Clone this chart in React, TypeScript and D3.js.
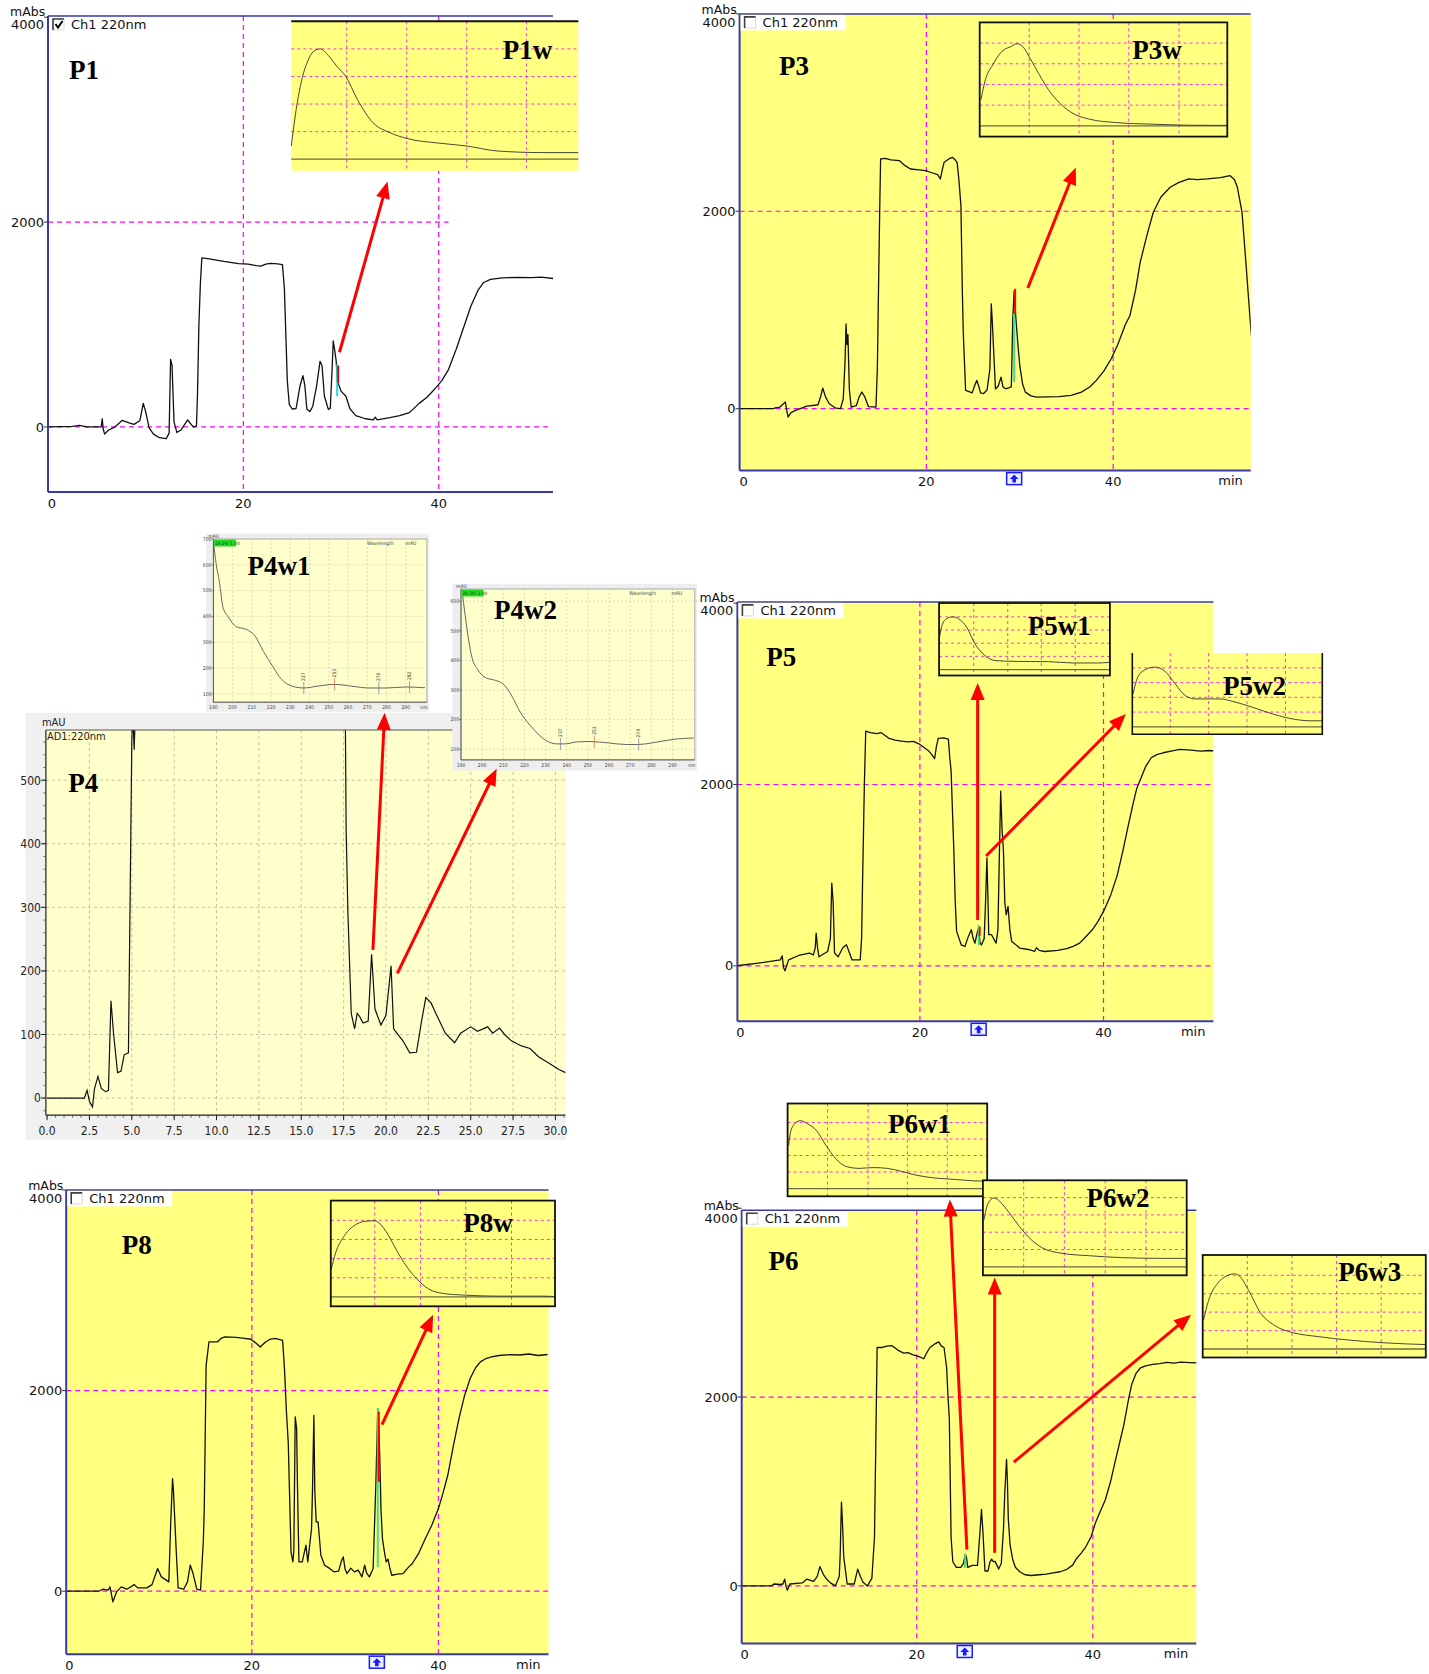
import React from 'react'
import * as d3 from 'd3'

type Pt = [number, number]

// chromatograms at 220 nm: [retention time (min), absorbance (mAbs, P4 in mAU)]
const p1Trace: Pt[] = [
  [0, 0], [2.5, 5], [3.2, 15], [4, 0], [5.45, 0], [5.55, 80], [5.65, -20], [5.8, -70], [6.2, -30], [6.8, -5],
  [7.6, 65], [8.3, 40], [8.8, 25], [9.4, 60], [9.75, 230], [10.0, 150], [10.35, -10], [10.8, -70], [11.4, -105],
  [12.1, -115], [12.4, -60], [12.55, 660], [12.7, 600], [12.9, 50], [13.2, -55], [13.6, -30], [14.3, 68], [14.7, 20],
  [14.95, 0], [15.2, 10], [15.3, 300], [15.45, 1000], [15.6, 1400], [15.75, 1650], [16.5, 1640], [18.0, 1615],
  [19.5, 1595], [20.5, 1590], [21.3, 1575], [21.8, 1570], [22.3, 1590], [22.8, 1597], [23.5, 1592], [24.0, 1585],
  [24.2, 1350], [24.35, 900], [24.5, 450], [24.7, 220], [25.0, 175], [25.4, 180], [25.8, 400], [26.1, 500],
  [26.3, 400], [26.5, 172], [26.8, 150], [27.1, 200], [27.5, 400], [27.85, 640], [28.05, 600], [28.3, 300],
  [28.7, 172], [28.9, 180], [29.1, 600], [29.2, 840], [29.35, 750], [29.5, 645], [29.65, 440], [30.0, 350],
  [30.5, 300], [30.9, 180], [31.5, 110], [32.5, 80], [33.3, 70], [33.5, 95], [33.7, 70], [35.0, 90], [36.0, 110],
  [37.0, 140], [38.0, 230], [38.8, 290], [39.5, 360], [40.3, 450], [41.0, 560], [41.8, 760], [42.6, 985],
  [43.3, 1180], [44.0, 1330], [44.6, 1410], [45.3, 1440], [46.5, 1455], [48.0, 1460], [49.5, 1458], [50.5, 1462],
  [51.8, 1448],
]

const p3Trace: Pt[] = [
  [0, 0], [3.6, 0], [3.85, 8], [4.3, 15], [4.9, 67], [5.05, -20], [5.2, -84], [5.5, -40], [6.0, -17], [7.2, 27],
  [8.0, 35], [8.4, 40], [8.7, 130], [8.9, 209], [9.2, 120], [9.6, 50], [10.3, 5], [10.8, 0], [11.1, 100], [11.3, 500],
  [11.4, 860], [11.5, 650], [11.6, 750], [11.75, 200], [11.95, 15], [12.5, 30], [12.8, 120], [13.1, 169], [13.4, 120],
  [13.8, 20], [14.6, 15], [14.75, 400], [14.85, 1045], [15.0, 2000], [15.1, 2530], [15.6, 2536], [16.2, 2520],
  [17.1, 2513], [17.6, 2470], [18.3, 2428], [19.2, 2420], [19.9, 2411], [20.6, 2390], [21.2, 2370], [21.5, 2327],
  [21.7, 2420], [21.9, 2496], [22.4, 2530], [22.8, 2546], [23.1, 2520], [23.3, 2490], [23.5, 2300], [23.7, 2057],
  [23.85, 1200], [23.95, 776], [24.2, 185], [24.5, 175], [24.9, 160], [25.2, 240], [25.4, 287], [25.6, 230],
  [25.8, 160], [26.1, 152], [26.5, 190], [26.8, 400], [26.95, 1062], [27.05, 900], [27.2, 600], [27.4, 200],
  [27.7, 230], [28.0, 320], [28.2, 220], [28.5, 202], [28.8, 210], [29.1, 220], [29.25, 900], [29.4, 1197],
  [29.55, 961], [29.8, 650], [30.0, 438], [30.3, 250], [30.6, 168], [31.2, 130], [31.8, 118], [33.0, 120],
  [34.2, 122], [35.5, 135], [36.6, 168], [37.5, 220], [38.2, 287], [39.0, 380], [39.8, 506], [40.5, 650],
  [41.3, 850], [41.8, 944], [42.4, 1200], [42.9, 1484], [43.6, 1750], [44.3, 1990], [45.1, 2142], [46.1, 2243],
  [47.0, 2290], [48.1, 2327], [49.0, 2320], [50.1, 2327], [51.5, 2340], [52.5, 2361], [53.0, 2320], [53.3, 2243],
  [53.8, 1990], [54.2, 1500], [54.5, 1113], [54.8, 742],
]

// the solvent front (5.3 - 17.5 min) runs off the top of the mAU window
const p4Trace: Pt[] = [
  [0, 0], [2.2, 0], [2.36, 12], [2.5, -5], [2.68, -14], [2.8, 15], [3.0, 34], [3.2, 15], [3.45, 10], [3.62, 12],
  [3.77, 153], [3.92, 102], [4.16, 40], [4.36, 42], [4.55, 68], [4.8, 71], [4.94, 412], [5.0, 560], [5.04, 600],
  [5.1, 575], [5.14, 548], [5.2, 600], [5.3, 900], [17.5, 900], [17.6, 600], [17.65, 420], [17.75, 294],
  [17.95, 133], [18.15, 109], [18.3, 133], [18.45, 128], [18.65, 118], [18.95, 121], [19.15, 226], [19.35, 140],
  [19.7, 115], [20.0, 130], [20.3, 208], [20.45, 109], [20.7, 100], [21.0, 90], [21.4, 71], [21.8, 72], [22.1, 121],
  [22.35, 158], [22.65, 150], [23.0, 130], [23.5, 102], [24.05, 87], [24.4, 102], [25.0, 112], [25.4, 105],
  [26.0, 112], [26.3, 102], [26.7, 110], [27.0, 100], [27.4, 90], [28.0, 82], [28.5, 78], [29.0, 65], [29.6, 55],
  [30.2, 45], [30.6, 40],
]

const p5Trace: Pt[] = [
  [0, 0], [2.4, 29], [4.8, 66], [5.0, 110], [5.15, -20], [5.3, -55], [5.7, 66], [6.8, 114], [7.95, 140], [8.4, 120],
  [8.6, 200], [8.7, 361], [8.85, 200], [9.0, 100], [9.95, 158], [10.25, 300], [10.4, 913], [10.55, 700], [10.7, 140],
  [11.1, 100], [11.6, 200], [12.0, 232], [12.3, 150], [12.6, 66], [13.5, 66], [13.65, 300], [13.75, 895],
  [13.95, 2000], [14.1, 2589], [14.6, 2571], [15.3, 2560], [15.8, 2571], [16.65, 2508], [17.3, 2490], [18.0, 2479],
  [18.7, 2470], [19.3, 2475], [20.0, 2442], [20.9, 2376], [21.3, 2330], [21.6, 2284], [21.8, 2420], [22.0, 2508],
  [22.6, 2515], [23.1, 2500], [23.25, 2300], [23.4, 2147], [23.55, 1700], [23.7, 1263], [23.85, 700], [24.0, 380],
  [24.5, 232], [24.9, 214], [25.3, 330], [25.6, 398], [25.8, 300], [26.0, 250], [26.2, 350], [26.4, 416],
  [26.55, 250], [26.7, 230], [27.0, 300], [27.15, 700], [27.3, 1190], [27.4, 800], [27.5, 343], [27.8, 343],
  [28.3, 250], [28.5, 400], [28.65, 1200], [28.8, 1926], [28.95, 1500], [29.1, 1263], [29.25, 700], [29.4, 563],
  [29.6, 656], [29.8, 400], [30.0, 269], [30.9, 195], [31.8, 180], [32.5, 160], [32.7, 200], [33.0, 170],
  [33.6, 158], [35.0, 170], [36.0, 190], [36.7, 214], [37.4, 250], [38.1, 324], [38.8, 400], [39.4, 490],
  [40.1, 620], [40.8, 785], [41.5, 1000], [42.1, 1263], [42.7, 1550], [43.2, 1779], [43.6, 1950], [44.1, 2074],
  [44.6, 2200], [45.2, 2295], [45.8, 2330], [46.5, 2350], [47.5, 2370], [48.3, 2387], [49.5, 2380], [50.6, 2368],
  [51.5, 2375], [52.0, 2370],
]

const p8Trace: Pt[] = [
  [0, 0], [3.6, 0], [4.0, 20], [4.6, 10], [4.8, 43], [5.1, -106], [5.5, -7], [6.0, 43], [6.6, 20], [7.4, 66],
  [7.75, 33], [8.75, 33], [9.3, 66], [9.9, 226], [10.3, 143], [11.1, 93], [11.3, 674], [11.5, 1123], [11.6, 1000],
  [11.7, 790], [11.9, 390], [12.1, 33], [12.7, 20], [13.1, 93], [13.4, 259], [13.7, 176], [14.1, 20], [14.5, 10],
  [14.8, 500], [14.9, 824], [15.1, 2252], [15.4, 2485], [16.3, 2485], [16.7, 2520], [17.1, 2535], [18.3, 2530],
  [19.2, 2520], [19.9, 2512], [20.5, 2470], [20.9, 2435], [21.4, 2480], [21.9, 2510], [22.5, 2520], [23.3, 2500],
  [23.5, 2219], [23.7, 1800], [23.9, 1488], [24.2, 392], [24.4, 292], [24.5, 400], [24.65, 1738], [24.8, 1621],
  [24.9, 1000], [25.05, 292], [25.4, 292], [25.8, 459], [26.0, 292], [26.4, 625], [26.5, 1000], [26.65, 1754],
  [26.75, 1000], [26.9, 691], [27.1, 691], [27.4, 359], [27.8, 259], [28.3, 230], [28.8, 193], [29.3, 200],
  [29.6, 300], [29.8, 342], [30.0, 220], [30.2, 176], [30.6, 230], [31.0, 193], [31.4, 210], [31.8, 143],
  [32.1, 259], [32.3, 180], [32.6, 143], [33.0, 226], [33.3, 1090], [33.5, 1821], [33.7, 1389], [33.85, 800],
  [34.0, 525], [34.2, 400], [34.4, 293], [34.6, 320], [34.8, 226], [35.0, 159], [35.6, 170], [36.2, 176],
  [36.7, 230], [37.2, 276], [37.9, 380], [38.6, 525], [39.3, 660], [40.0, 824], [40.5, 980], [41.0, 1156],
  [41.6, 1450], [42.2, 1721], [42.8, 1950], [43.4, 2120], [44.0, 2230], [44.5, 2286], [45.1, 2320], [45.7, 2336],
  [46.5, 2350], [47.7, 2359], [48.7, 2355], [49.7, 2365], [50.7, 2350], [51.7, 2360],
]

const p6Trace: Pt[] = [
  [0, 0], [3.5, 0], [3.76, 20], [4.5, 15], [4.8, 20], [5.0, 71], [5.15, 0], [5.3, -47], [5.6, 20], [7.0, 32],
  [7.5, 71], [8.3, 47], [8.7, 100], [9.0, 205], [9.4, 120], [9.7, 79], [10.2, 32], [10.75, 0], [11.2, 100],
  [11.3, 316], [11.45, 888], [11.6, 600], [11.7, 316], [12.1, 20], [12.9, 20], [13.1, 100], [13.3, 178], [13.6, 100],
  [13.9, 39], [14.4, 0], [14.9, 79], [15.2, 513], [15.35, 1500], [15.5, 2525], [16.1, 2525], [16.6, 2540],
  [17.2, 2544], [17.8, 2500], [18.5, 2465], [19.0, 2470], [19.6, 2446], [20.2, 2430], [20.8, 2406], [21.2, 2480],
  [21.5, 2525], [22.0, 2560], [22.5, 2584], [22.8, 2540], [23.1, 2525], [23.4, 2308], [23.55, 2000], [23.7, 1775],
  [23.9, 513], [24.1, 256], [24.5, 197], [25.0, 197], [25.3, 237], [25.5, 335], [25.65, 300], [25.8, 197],
  [26.3, 217], [26.9, 217], [27.2, 592], [27.35, 809], [27.5, 600], [27.75, 158], [28.1, 158], [28.3, 250],
  [28.5, 284], [28.7, 256], [28.9, 260], [29.1, 220], [29.3, 178], [29.6, 237], [29.85, 600], [30.0, 986],
  [30.2, 1341], [30.3, 1100], [30.4, 710], [30.6, 434], [30.9, 280], [31.2, 197], [31.7, 150], [32.3, 118],
  [33.0, 110], [33.9, 118], [34.7, 125], [35.5, 138], [36.3, 150], [37.1, 178], [37.7, 220], [38.2, 296],
  [38.7, 350], [39.2, 414], [39.8, 520], [40.3, 670], [40.9, 800], [41.4, 907], [42.0, 1100], [42.5, 1302],
  [43.0, 1500], [43.5, 1696], [44.0, 1950], [44.4, 2130], [44.9, 2250], [45.4, 2308], [46.0, 2330], [46.8, 2347],
  [47.6, 2355], [48.4, 2367], [49.2, 2360], [50.0, 2370], [51.0, 2365], [51.9, 2362],
]

// UV spectra of the marked peaks: [% of the wavelength window, absorbance in grid divisions]
const p1wSpectrum: Pt[] = [
  [0, 0.48], [1.7, 1.8], [3.7, 2.9], [5.7, 3.55], [7.7, 3.9], [10.1, 4.0], [13, 3.75], [16, 3.35], [19, 3.0],
  [23, 2.17], [28.4, 1.33], [34.4, 0.96], [40.3, 0.75], [51.7, 0.58], [61, 0.48], [71.6, 0.3], [87.6, 0.24], [100, 0.24],
]
const p3wSpectrum: Pt[] = [
  [0.5, 1.26], [2.3, 2.23], [5.3, 2.95], [9, 3.6], [12.8, 3.84], [15, 3.97], [17.3, 3.84], [20.3, 3.27],
  [24.1, 2.47], [27.8, 1.74], [32.3, 1.1], [38.3, 0.56], [44.4, 0.32], [54.9, 0.16], [69.9, 0.08], [85, 0.03], [100, 0.02],
]
const p5w1Spectrum: Pt[] = [
  [0.2, 2.43], [1.9, 3.43], [4.3, 3.85], [7.9, 4.0], [11.5, 3.85], [16.3, 3.18], [21.1, 1.93], [25.8, 1.18],
  [33, 0.68], [45, 0.62], [64, 0.6], [78.5, 0.5], [92.8, 0.5], [100, 0.55],
]
const p5w2Spectrum: Pt[] = [
  [0.4, 2.23], [2.2, 3.14], [5.4, 3.77], [11.8, 4.05], [17.2, 3.77], [22.6, 2.91], [28, 2.11], [33.3, 1.89],
  [39.8, 1.89], [46.2, 1.89], [52.7, 1.73], [63.4, 1.32], [74.2, 0.86], [85, 0.52], [93.5, 0.41], [100, 0.41],
]
const p8wSpectrum: Pt[] = [
  [0.2, 1.44], [2.2, 2.32], [5.5, 3.1], [10.4, 3.72], [15.4, 3.95], [19.6, 3.98], [22.1, 3.8], [25.4, 3.28],
  [29.5, 2.4], [33.7, 1.61], [38.6, 0.91], [43.6, 0.42], [50.2, 0.18], [60.2, 0.09], [75, 0.04], [95, 0.04], [100, 0.02],
]
const p6w1Spectrum: Pt[] = [
  [0.5, 2.6], [1.65, 3.49], [4, 3.98], [6.4, 4.11], [9.9, 3.93], [14.6, 3.49], [19.3, 2.6], [24, 1.82], [30, 1.31],
  [35.8, 1.22], [42.9, 1.27], [50, 1.22], [57, 1.04], [64, 0.82], [73.6, 0.64], [83, 0.56], [92.5, 0.47], [100, 0.44],
]
const p6w2Spectrum: Pt[] = [
  [0.5, 2.7], [2.5, 3.66], [5.5, 3.98], [8.3, 3.77], [12.9, 3.13], [17.6, 2.38], [22.2, 1.74], [29.1, 1.1],
  [38.3, 0.79], [52.2, 0.64], [68.4, 0.53], [86.8, 0.49], [100, 0.49],
]
const p6w3Spectrum: Pt[] = [
  [0.4, 1.58], [2.5, 2.58], [6.8, 3.58], [11, 3.98], [14.2, 4.08], [16.3, 3.98], [20.6, 3.18], [25.8, 1.98],
  [32.2, 1.28], [40.7, 0.88], [51.3, 0.68], [66, 0.48], [81, 0.34], [100, 0.24],
]

// PDA spectra of the two P4 peaks: [wavelength (nm), mAU]
const p4w1Spectrum: Pt[] = [
  [190, 690], [191.5, 600], [193, 540], [195, 435], [197.6, 400], [202, 360], [207, 350], [211.6, 325], [216, 265],
  [221, 205], [225, 160], [231, 130], [237, 123], [244, 130], [253, 137], [262, 130], [271, 123], [280, 123],
  [290, 127], [300, 124],
]
const p4w2Spectrum: Pt[] = [
  [190.6, 630], [193, 498], [195, 415], [198, 368], [202, 340], [205, 335], [210, 320], [214, 280], [218, 225],
  [224, 170], [230, 130], [235.5, 118], [239, 118], [245, 125], [251, 126], [260, 121], [268, 116], [274, 116],
  [280, 121], [291, 134], [300, 138],
]
const p4w1Peaks = [237, 253, 276, 292]
const p4w2Peaks = [237, 253, 274]

const absTicks = [0, 2000, 4000]
const timeTicks = [0, 20, 40]
const p4TimeTicks = [0, 2.5, 5, 7.5, 10, 12.5, 15, 17.5, 20, 22.5, 25, 27.5, 30]
const p4AbsTicks = [0, 100, 200, 300, 400, 500]
const nmTicks = [190, 200, 210, 220, 230, 240, 250, 260, 270, 280, 290]
const p4w1AbsTicks = [100, 200, 300, 400, 500, 600, 700]
const p4w2AbsTicks = [100, 200, 300, 400, 500, 600]
const spectrumGridRows = [1, 2, 3, 4]

const YELLOW = '#ffff80'
const MAGENTA = '#ff00ff'
const AXIS = '#3a3aa6'
const SANS = "'DejaVu Sans', Arial, sans-serif"
const NARROW = "'Liberation Sans Narrow', 'DejaVu Sans Condensed', 'Liberation Sans', sans-serif"
const SERIF = "'Liberation Serif', 'Times New Roman', serif"

const panels = [
  {
    id: 'p1', name: 'P1', trace: p1Trace, box: [48, 16, 553, 492], xDomain: [0, 51.7], yDomain: [-635, 4011],
    bg: '#ffffff', checked: true, minLabel: false, marker: null, gridEnd: { 0: 51.3, 2000: 41 },
    hilite: { t: 29.6, green: [300, 610], red: [430, 600], color: '#22dddd' }, labelAt: [69, 79],
    arrows: [[[29.84, 729], [34.76, 2396]]],
  },
  {
    id: 'p3', name: 'P3', trace: p3Trace, box: [739.6, 13.9, 1250.8, 470.6], xDomain: [0, 54.74], yDomain: [-627, 3999],
    bg: YELLOW, checked: false, minLabel: true, marker: 29.4, gridEnd: {},
    hilite: { t: 29.4, green: [270, 960], red: [960, 1215], color: '#3fe08a' }, labelAt: [779, 74.7],
    arrows: [[[30.86, 1222], [36.0, 2442]]],
  },
  {
    id: 'p5', name: 'P5', trace: p5Trace, box: [737.4, 601.9, 1213.4, 1021.3], xDomain: [0.12, 51.97], yDomain: [-612, 4014],
    bg: YELLOW, checked: false, minLabel: true, marker: 26.4, gridEnd: {},
    hilite: { t: 26.4, green: [230, 450], red: [330, 430], color: '#3fe08a' }, labelAt: [766.2, 665.9],
    arrows: [[[26.29, 506], [26.29, 3119]], [[27.21, 1212], [42.44, 2777]]],
  },
  {
    id: 'p8', name: 'P8', trace: p8Trace, box: [66.2, 1189.9, 548.5, 1654.2], xDomain: [0.1, 51.8], yDomain: [-628, 4001],
    bg: YELLOW, checked: false, minLabel: true, marker: 33.4, gridEnd: {},
    hilite: { t: 33.5, green: [240, 1827], red: [1090, 1790], color: '#3fe08a' }, labelAt: [121.7, 1254],
    arrows: [[[33.95, 1660], [39.43, 2756]]],
  },
  {
    id: 'p6', name: 'P6', trace: p6Trace, box: [741.7, 1210.2, 1196.3, 1643.5], xDomain: [0.12, 51.75], yDomain: [-610, 3979],
    bg: YELLOW, checked: false, minLabel: true, marker: 25.45, gridEnd: {},
    hilite: { t: 25.5, green: [190, 340], red: null, color: '#3fe08a' }, labelAt: [768.4, 1270],
    arrows: [[[25.7, 384], [23.76, 4092]], [[28.85, 351], [28.85, 3267]], [[31.03, 1311], [51.15, 2871]]],
  },
]

const p4Panel = {
  frame: [25.6, 712.9, 565.6, 1139.8], box: [45.9, 730, 565.6, 1115.2], xDomain: [-0.07, 30.6], yDomain: [-27, 579],
  labelAt: [68.3, 791.9], arrows: [[[19.23, 233], [19.92, 606]], [[20.67, 196], [26.53, 518]]],
}

const spectrumInsets = [
  { id: 'p1w', name: 'P1w', spectrum: p1wSpectrum, box: [291.3, 21.3, 578.4, 170.8], yDomain: [-0.42, 5.0], vGrid: [19.3, 40.2, 61.1, 81.9], border: 'top', labelAt: [502.7, 58.7] },
  { id: 'p3w', name: 'P3w', spectrum: p3wSpectrum, box: [979.7, 22.4, 1227.3, 136.6], yDomain: [-0.52, 5.0], vGrid: [20, 40.1, 60.2, 80.5], border: 'all', labelAt: [1132.3, 58.7] },
  { id: 'p5w1', name: 'P5w1', spectrum: p5w1Spectrum, box: [939.1, 603, 1109.9, 675.5], yDomain: [-0.45, 5.05], vGrid: [20.3, 40.2, 59.8, 79.7], border: 'all', labelAt: [1027.7, 635] },
  { id: 'p5w2', name: 'P5w2', spectrum: p5w2Spectrum, box: [1132.3, 653.1, 1322.3, 734.2], yDomain: [-0.5, 5.0], vGrid: [20, 40.2, 60.4, 80.6], border: 'open', labelAt: [1223, 694.7] },
  { id: 'p8w', name: 'P8w', spectrum: p8wSpectrum, box: [330.8, 1200.6, 555, 1306.3], yDomain: [-0.49, 5.03], vGrid: [19.6, 40, 60.2, 80.6], border: 'all', labelAt: [463.2, 1231.6] },
  { id: 'p6w1', name: 'P6w1', spectrum: p6w1Spectrum, box: [787.6, 1103.5, 987.2, 1196.3], yDomain: [-0.47, 5.15], vGrid: [20, 40.3, 60, 80], border: 'all', labelAt: [887.9, 1133.4] },
  { id: 'p6w2', name: 'P6w2', spectrum: p6w2Spectrum, box: [982.9, 1180.3, 1186.7, 1275.3], yDomain: [-0.49, 5.0], vGrid: [20, 40, 60, 80], border: 'all', labelAt: [1086.4, 1207] },
  { id: 'p6w3', name: 'P6w3', spectrum: p6w3Spectrum, box: [1202.7, 1255, 1425.8, 1357.5], yDomain: [-0.46, 5.1], vGrid: [20, 40, 60, 80], border: 'all', labelAt: [1338.3, 1280.6] },
]

const pdaInsets = [
  { id: 'p4w1', name: 'P4w1', spectrum: p4w1Spectrum, peaks: p4w1Peaks, frame: [206, 533.6, 429, 711.8], box: [213.4, 539, 426.9, 702.2], xDomain: [190, 301], yDomain: [68, 700], yTicks: p4w1AbsTicks, tag: '19.29/ 1.00', labelAt: [247.6, 575.2] },
  { id: 'p4w2', name: 'P4w2', spectrum: p4w2Spectrum, peaks: p4w2Peaks, frame: [452.5, 583.8, 696.9, 770.5], box: [461, 589, 694.8, 759.9], xDomain: [190, 300.5], yDomain: [64, 641], yTicks: p4w2AbsTicks, tag: '20.30/ 1.00', labelAt: [494.1, 619] },
]

function scalesFor(p: any) {
  const [l, t, r, b] = p.box
  const x = d3.scaleLinear().domain(p.xDomain).range([l, r])
  const y = d3.scaleLinear().domain(p.yDomain).range([b, t])
  return { x, y }
}

function Label({ at, text }: any) {
  return (
    <text x={at[0]} y={at[1]} fontFamily={SERIF} fontWeight="bold" fontSize={27} fill="#000">{text}</text>
  )
}

function Chromatogram({ p }: any) {
  const [l, t, r, b] = p.box
  const { x, y } = scalesFor(p)
  const line = d3.line<Pt>().x(d => x(d[0])).y(d => y(d[1]))
  const clip = `clip-${p.id}`
  const h = p.hilite
  return (
    <g>
      <rect x={l} y={t} width={r - l} height={b - t} fill={p.bg} />
      {timeTicks.filter(v => v > 0).map(v => (
        <line key={'gv' + v} x1={x(v)} x2={x(v)} y1={t} y2={b} stroke={MAGENTA} strokeWidth={1.2} strokeDasharray="5,4" />
      ))}
      {absTicks.filter(v => v < 4000).map(v => (
        <line key={'gh' + v} x1={l} x2={x(p.gridEnd[v] ?? p.xDomain[1])} y1={y(v)} y2={y(v)}
          stroke={MAGENTA} strokeWidth={1.2} strokeDasharray="5,4" />
      ))}
      <clipPath id={clip}><rect x={l} y={t} width={r - l} height={b - t} /></clipPath>
      <path d={line(p.trace) || ''} fill="none" stroke="#111" strokeWidth={1.3} strokeLinejoin="round" clipPath={`url(#${clip})`} />
      {h && (
        <g>
          <line x1={x(h.t)} x2={x(h.t)} y1={y(h.green[0])} y2={y(h.green[1])} stroke={h.color} strokeWidth={2} />
          {h.red && <line x1={x(h.t) + 1} x2={x(h.t) + 1} y1={y(h.red[0])} y2={y(h.red[1])} stroke="#ff0000" strokeWidth={2} />}
        </g>
      )}
      <line x1={l} x2={r} y1={t} y2={t} stroke={AXIS} strokeWidth={1.5} />
      <line x1={l} x2={l} y1={t} y2={b} stroke={AXIS} strokeWidth={2} />
      <line x1={l} x2={r} y1={b} y2={b} stroke={AXIS} strokeWidth={2} />
      {absTicks.map(v => (
        <g key={'yt' + v}>
          <line x1={l - 4} x2={l} y1={y(v)} y2={y(v)} stroke="#333" strokeWidth={1} />
          <text x={l - 4} y={v === 4000 ? t + 8 : y(v)} dy="0.36em" textAnchor="end" fontFamily={SANS} fontSize={13} fill="#111">{v}</text>
        </g>
      ))}
      {timeTicks.map(v => (
        <text key={'xt' + v} x={v === 0 ? x(v) + 4 : x(v)} y={b + 11} dy="0.36em" textAnchor="middle" fontFamily={SANS} fontSize={13} fill="#111">{v}</text>
      ))}
      {p.minLabel && (
        <text x={r - 8} y={b + 10} dy="0.36em" textAnchor="end" fontFamily={SANS} fontSize={13} fill="#111">min</text>
      )}
      <text x={l - 38} y={t} fontFamily={SANS} fontSize={12.5} fill="#111">mAbs</text>
      <rect x={l + 1} y={t + 1} width={105} height={15.5} fill="#ffffff" />
      <rect x={l + 5} y={t + 3} width={11} height={11} fill="#ffffff" stroke="#d8d8d8" strokeWidth={1} />
      <path d={`M${l + 5},${t + 14} V${t + 3} H${l + 16}`} fill="none" stroke="#404040" strokeWidth={1.6} />
      {p.checked && (
        <path d={`M${l + 7.5},${t + 8} L${l + 10},${t + 11.5} L${l + 14.5},${t + 5}`} fill="none" stroke="#000" strokeWidth={2} />
      )}
      <text x={l + 23} y={t + 8.5} dy="0.36em" fontFamily={SANS} fontSize={13} fill="#111">Ch1 220nm</text>
      {p.marker != null && (
        <g transform={`translate(${x(p.marker)},${b + 2})`}>
          <rect x={-7.5} y={0} width={15} height={12} fill="#eef2ff" stroke="#1a1aff" strokeWidth={1.5} />
          <path d="M0,2 L-4.5,6.5 L-1.8,6.5 L-1.8,10 L1.8,10 L1.8,6.5 L4.5,6.5 Z" fill="#1a1aff" />
        </g>
      )}
      <Label at={p.labelAt} text={p.name} />
    </g>
  )
}

function P4Chromatogram() {
  const p = p4Panel
  const [fl, ft, fr, fb] = p.frame
  const [l, t, r, b] = p.box
  const { x, y } = scalesFor(p)
  const line = d3.line<Pt>().x(d => x(d[0])).y(d => y(d[1]))
  const minorY = d3.range(-20, 580, 20)
  const minorX = d3.range(0, 30.6, 0.5)
  return (
    <g>
      <rect x={fl} y={ft} width={fr - fl} height={fb - ft} fill="#f0f0f0" />
      <rect x={l} y={t} width={r - l} height={b - t} fill="#ffffcc" />
      {p4TimeTicks.filter(v => v > 0).map(v => (
        <line key={'gv' + v} x1={x(v)} x2={x(v)} y1={t} y2={b} stroke="#c4c4a4" strokeWidth={1} strokeDasharray="3,3" />
      ))}
      {p4AbsTicks.map(v => (
        <line key={'gh' + v} x1={l} x2={r} y1={y(v)} y2={y(v)} stroke="#c4c4a4" strokeWidth={1} strokeDasharray="3,3" />
      ))}
      <clipPath id="clip-p4"><rect x={l} y={t} width={r - l} height={b - t} /></clipPath>
      <path d={line(p4Trace) || ''} fill="none" stroke="#111" strokeWidth={1.2} clipPath="url(#clip-p4)" />
      <line x1={l} x2={r} y1={t} y2={t} stroke="#555" strokeWidth={1.2} />
      <line x1={l} x2={l} y1={t} y2={b} stroke="#222" strokeWidth={1.2} />
      <line x1={l} x2={r} y1={b} y2={b} stroke="#222" strokeWidth={1.2} />
      {minorY.map(v => <line key={'my' + v} x1={l - 2.5} x2={l} y1={y(v)} y2={y(v)} stroke="#333" strokeWidth={0.7} />)}
      {minorX.map(v => <line key={'mx' + v} x1={x(v)} x2={x(v)} y1={b} y2={b + 2.5} stroke="#333" strokeWidth={0.7} />)}
      {p4AbsTicks.map(v => (
        <g key={'yt' + v}>
          <line x1={l - 5} x2={l} y1={y(v)} y2={y(v)} stroke="#222" strokeWidth={1} />
          <text x={l - 5} y={y(v)} dy="0.36em" textAnchor="end" fontFamily={NARROW} fontSize={12} fill="#222">{v}</text>
        </g>
      ))}
      {p4TimeTicks.map(v => (
        <g key={'xt' + v}>
          <line x1={x(v)} x2={x(v)} y1={b} y2={b + 5} stroke="#222" strokeWidth={1} />
          <text x={x(v)} y={b + 15} dy="0.36em" textAnchor="middle" fontFamily={NARROW} fontSize={12} fill="#222">{d3.format('.1f')(v)}</text>
        </g>
      ))}
      <text x={l - 4} y={t - 4} fontFamily={NARROW} fontSize={11} fill="#222">mAU</text>
      <text x={l + 1} y={t + 6.5} dy="0.36em" fontFamily={NARROW} fontSize={11} fill="#222">AD1:220nm</text>
      <Label at={p.labelAt} text="P4" />
    </g>
  )
}

function PdaInset({ s }: any) {
  const [fl, ft, fr, fb] = s.frame
  const [l, t, r, b] = s.box
  const { x, y } = scalesFor(s)
  const line = d3.line<Pt>().x(d => x(d[0])).y(d => y(d[1])).curve(d3.curveMonotoneX)
  const valueAt = (w: number) => {
    const i = d3.bisector((d: Pt) => d[0]).left(s.spectrum, w)
    const a = s.spectrum[Math.max(0, i - 1)], c = s.spectrum[Math.min(s.spectrum.length - 1, i)]
    return c[0] === a[0] ? a[1] : a[1] + (c[1] - a[1]) * (w - a[0]) / (c[0] - a[0])
  }
  return (
    <g>
      <rect x={fl} y={ft} width={fr - fl} height={fb - ft} fill="#eeeeee" />
      <rect x={l} y={t} width={r - l} height={b - t} fill="#ffffcc" stroke="#999" strokeWidth={0.8} />
      {nmTicks.filter(v => v > 190).map(v => (
        <line key={'gv' + v} x1={x(v)} x2={x(v)} y1={t} y2={b} stroke="#cfcfb0" strokeWidth={0.7} strokeDasharray="2,2" />
      ))}
      {s.yTicks.map((v: number) => (
        <line key={'gh' + v} x1={l} x2={r} y1={y(v)} y2={y(v)} stroke="#cfcfb0" strokeWidth={0.7} strokeDasharray="2,2" />
      ))}
      <line x1={l} x2={l} y1={t} y2={b} stroke="#444" strokeWidth={0.8} />
      <line x1={l} x2={r} y1={b} y2={b} stroke="#444" strokeWidth={0.8} />
      {s.yTicks.map((v: number) => (
        <g key={'yt' + v}>
          <line x1={l - 2} x2={l} y1={y(v)} y2={y(v)} stroke="#444" strokeWidth={0.6} />
          <text x={l - 2} y={y(v)} dy="0.36em" textAnchor="end" fontFamily={NARROW} fontSize={5} fill="#444">{v}</text>
        </g>
      ))}
      {nmTicks.map(v => (
        <text key={'xt' + v} x={x(v)} y={b + 5} dy="0.36em" textAnchor="middle" fontFamily={NARROW} fontSize={5} fill="#444">{v}</text>
      ))}
      <text x={r - 3} y={b + 5} dy="0.36em" textAnchor="middle" fontFamily={NARROW} fontSize={5} fill="#444">nm</text>
      <text x={l - 5} y={t - 1} fontFamily={NARROW} fontSize={5} fill="#444">mAU</text>
      <path d={line(s.spectrum) || ''} fill="none" stroke="#555" strokeWidth={0.9} />
      {s.peaks.map((w: number, i: number) => {
        const py = y(valueAt(w))
        return (
          <g key={'pk' + w}>
            <line x1={x(w)} x2={x(w)} y1={py - 6} y2={py + 6} stroke={i === 1 ? '#e06040' : '#6677aa'} strokeWidth={0.7} />
            <text transform={`translate(${x(w) + 1.5},${py - 7}) rotate(-90)`} fontFamily={NARROW} fontSize={5} fill="#444">{w}</text>
          </g>
        )
      })}
      <rect x={l + 0.5} y={t + 0.5} width={22} height={7} fill="#22dd22" />
      <text x={l + 1.5} y={t + 4} dy="0.36em" fontFamily={NARROW} fontSize={4.8} fill="#114411">{s.tag}</text>
      <text x={l + (r - l) * 0.72} y={t + 4} dy="0.36em" fontFamily={NARROW} fontSize={5} fill="#444">Wavelength</text>
      <text x={l + (r - l) * 0.9} y={t + 4} dy="0.36em" fontFamily={NARROW} fontSize={5} fill="#444">mAU</text>
      <Label at={s.labelAt} text={s.name} />
    </g>
  )
}

function SpectrumInset({ s }: any) {
  const [l, t, r, b] = s.box
  const x = d3.scaleLinear().domain([0, 100]).range([l, r])
  const y = d3.scaleLinear().domain(s.yDomain).range([b, t])
  const line = d3.line<Pt>().x(d => x(d[0])).y(d => y(d[1])).curve(d3.curveMonotoneX)
  return (
    <g>
      <rect x={l} y={t} width={r - l} height={b - t} fill={YELLOW} />
      {s.vGrid.map((v: number) => (
        <line key={'gv' + v} x1={x(v)} x2={x(v)} y1={t} y2={b} stroke={MAGENTA} strokeWidth={0.8} strokeDasharray="3,3" />
      ))}
      {spectrumGridRows.map(v => (
        <line key={'gh' + v} x1={l} x2={r} y1={y(v)} y2={y(v)} stroke={MAGENTA} strokeWidth={0.8} strokeDasharray="3,3" />
      ))}
      <line x1={l} x2={r} y1={y(0)} y2={y(0)} stroke="#6b6b45" strokeWidth={1.3} />
      <path d={line(s.spectrum) || ''} fill="none" stroke="#333" strokeWidth={0.9} />
      {s.border === 'all' && <rect x={l} y={t} width={r - l} height={b - t} fill="none" stroke="#111" strokeWidth={1.8} />}
      {s.border === 'open' && <path d={`M${l},${t} V${b} H${r} V${t}`} fill="none" stroke="#111" strokeWidth={1.6} />}
      {s.border === 'top' && <line x1={l} x2={r} y1={t} y2={t} stroke="#111" strokeWidth={2} />}
      <Label at={s.labelAt} text={s.name} />
    </g>
  )
}

function Arrow({ from, to }: any) {
  const dx = to[0] - from[0], dy = to[1] - from[1]
  const len = Math.hypot(dx, dy)
  const ux = dx / len, uy = dy / len
  const head = 17, half = 7
  const bx = to[0] - ux * head, by = to[1] - uy * head
  return (
    <g>
      <line x1={from[0]} y1={from[1]} x2={bx + ux * 2} y2={by + uy * 2} stroke="#ff0000" strokeWidth={3} />
      <polygon points={`${to[0]},${to[1]} ${bx - uy * half},${by + ux * half} ${bx + uy * half},${by - ux * half}`} fill="#ff0000" />
    </g>
  )
}

export default function App() {
  const arrowList: any[] = []
  panels.concat([p4Panel as any]).forEach((p: any) => {
    const { x, y } = scalesFor(p)
    p.arrows.forEach((a: any) => {
      arrowList.push({ from: [x(a[0][0]), y(a[0][1])], to: [x(a[1][0]), y(a[1][1])] })
    })
  })
  return (
    <svg width={1429} height={1674} style={{ position: 'absolute', left: 0, top: 0, background: '#fff' }}>
      <rect x={0} y={0} width={1429} height={1674} fill="#ffffff" />
      {panels.map(p => <Chromatogram key={p.id} p={p} />)}
      <P4Chromatogram />
      {pdaInsets.map(s => <PdaInset key={s.id} s={s} />)}
      {spectrumInsets.map(s => <SpectrumInset key={s.id} s={s} />)}
      {arrowList.map((a, i) => <Arrow key={'ar' + i} from={a.from} to={a.to} />)}
    </svg>
  )
}
